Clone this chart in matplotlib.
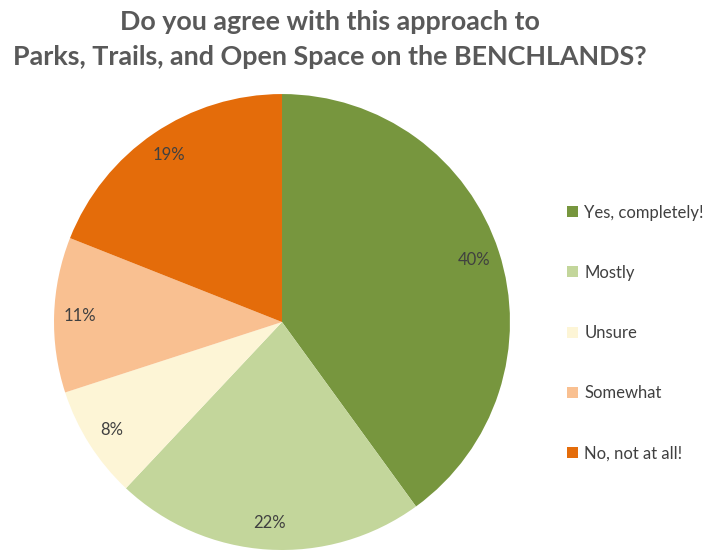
import matplotlib
matplotlib.use("Agg")
import matplotlib.pyplot as plt
from matplotlib.patches import Patch

categories = ["Yes, completely!", "Mostly", "Unsure", "Somewhat", "No, not at all!"]
shares = [40, 22, 8, 11, 19]
colors = ["#77963E", "#C3D69B", "#FDF5D6", "#F9C091", "#E46C0A"]
title = "Do you agree with this approach to\nParks, Trails, and Open Space on the BENCHLANDS?"

plt.rcParams["font.family"] = ["Lato", "DejaVu Sans"]

fig = plt.figure(figsize=(7.04, 5.5), dpi=100)
ax = fig.add_axes([0.0767, 0.0, 0.6477, 0.829])

wedges, texts, autotexts = ax.pie(
    shares,
    colors=colors,
    startangle=90,
    counterclock=False,
    autopct=lambda p: f"{p:.0f}%",
    pctdistance=0.885,
    radius=1.0,
    wedgeprops=dict(linewidth=0),
    textprops=dict(fontsize=12, color="#404040"),
)
ax.set_xlim(-1, 1)
ax.set_ylim(-1, 1)
ax.set_aspect("equal")
ax.axis("off")

fig.text(0.469, 0.982, title, ha="center", va="top", fontsize=19.4,
         fontweight="bold", color="#595959", linespacing=1.54)

handles = [Patch(facecolor=c, edgecolor="none") for c in colors]
leg = fig.legend(handles, categories, loc="upper left",
                 bbox_to_anchor=(0.805, 0.628), frameon=False,
                 fontsize=12, labelcolor="#404040",
                 handlelength=0.65, handleheight=0.65, handletextpad=0.4,
                 labelspacing=2.65, borderpad=0, borderaxespad=0)

fig.savefig("out.png", dpi=100)
